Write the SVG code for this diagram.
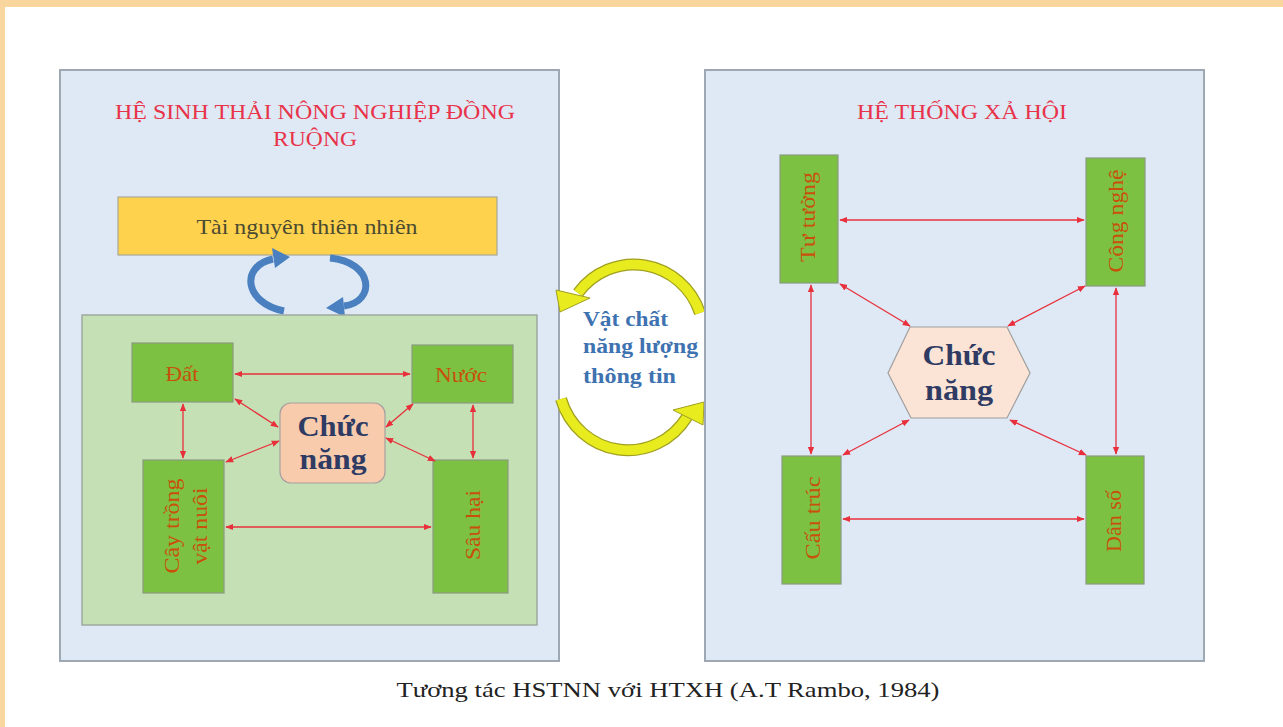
<svg xmlns="http://www.w3.org/2000/svg" width="1283" height="727" viewBox="0 0 1283 727">
<style>
.panel{fill:#DEE9F5;stroke:#9EA8B3;stroke-width:2}
.gbox{fill:#7DC142;stroke:#8A9A80;stroke-width:1.2}
.title{font-family:"Liberation Serif",serif;font-size:21px;fill:#E8334A}
.lbl{font-family:"Liberation Serif",serif;font-size:22px;fill:#C8500A}
.cn{font-family:"Liberation Serif",serif;font-size:30px;font-weight:bold;fill:#2F3B63}
.con{stroke:#E8303C;stroke-width:1.3;fill:none;marker-start:url(#a);marker-end:url(#a)}
.vc{font-family:"Liberation Serif",serif;font-size:20px;font-weight:bold;fill:#3E72B0}
</style>
<defs>
<marker id="a" viewBox="0 0 10 10" refX="9" refY="5" markerWidth="8" markerHeight="8" orient="auto-start-reverse" markerUnits="userSpaceOnUse"><path d="M0,1 L10,5 L0,9 z" fill="#E8303C"/></marker>
</defs>
<rect x="0" y="0" width="1283" height="727" fill="#FFFFFF"/>
<rect x="0" y="0" width="1283" height="7" fill="#F8D69E"/>
<rect x="0" y="0" width="5" height="727" fill="#F8D69E"/>

<g id="panel-left">
<rect class="panel" x="60" y="70" width="499" height="591"/>
<text class="title" x="315" y="119" text-anchor="middle" textLength="400" lengthAdjust="spacingAndGlyphs">HỆ SINH THẢI NÔNG NGHIỆP ĐỒNG</text>
<text class="title" x="315" y="146" text-anchor="middle" textLength="84" lengthAdjust="spacingAndGlyphs">RUỘNG</text>
</g>
<g id="tai-nguyen">
<rect x="118" y="197" width="379" height="58" fill="#FFD24E" stroke="#A8A898" stroke-width="1.2"/>
<text x="307" y="234" text-anchor="middle" font-family="Liberation Serif, serif" font-size="22" fill="#4A4A30" textLength="221" lengthAdjust="spacingAndGlyphs">Tài nguyên thiên nhiên</text>
</g>
<g id="cycle-arrows" fill="#4A80C0">
<path d="M284 311 C244 303, 240 266, 273 259" fill="none" stroke="#4A80C0" stroke-width="7"/>
<polygon points="290,257 272,248 275,268"/>
<path d="M330 258 C374 262, 376 302, 344 306" fill="none" stroke="#4A80C0" stroke-width="7"/>
<polygon points="326,308 343,297 345,317"/>
</g>
<g id="panel-inner">
<rect x="82" y="315" width="455" height="310" fill="#C5E0B4" stroke="#9EA8A0" stroke-width="1.5"/>
</g>
<g id="dat">
<rect class="gbox" x="132" y="343" width="101" height="59"/>
<text class="lbl" x="182" y="381" text-anchor="middle" textLength="33" lengthAdjust="spacingAndGlyphs">Đất</text>
</g>
<g id="nuoc">
<rect class="gbox" x="412" y="345" width="101" height="58"/>
<text class="lbl" x="461" y="382" text-anchor="middle" textLength="52" lengthAdjust="spacingAndGlyphs">Nước</text>
</g>
<g id="chuc-nang-left">
<rect x="280" y="403" width="105" height="80" rx="11" fill="#F8CBAD" stroke="#A8A0A0" stroke-width="1.2"/>
<text class="cn" x="333" y="436" text-anchor="middle" textLength="71" lengthAdjust="spacingAndGlyphs">Chức</text>
<text class="cn" x="333" y="469" text-anchor="middle" textLength="67" lengthAdjust="spacingAndGlyphs">năng</text>
</g>
<g id="cay-trong">
<rect class="gbox" x="143" y="460" width="81" height="133"/>
<text class="lbl" transform="translate(179,526) rotate(-90)" text-anchor="middle" textLength="95" lengthAdjust="spacingAndGlyphs">Cây trồng</text>
<text class="lbl" transform="translate(207,526) rotate(-90)" text-anchor="middle" textLength="77" lengthAdjust="spacingAndGlyphs">vật nuôi</text>
</g>
<g id="sau-hai">
<rect class="gbox" x="433" y="460" width="75" height="133"/>
<text class="lbl" transform="translate(480,525) rotate(-90)" text-anchor="middle" textLength="70" lengthAdjust="spacingAndGlyphs">Sâu hại</text>
</g>

<g id="middle">
<path d="M700 313 A70 72 0 0 0 578 293" fill="none" stroke="#A0A020" stroke-width="12"/>
<path d="M700 313 A70 72 0 0 0 578 293" fill="none" stroke="#E8EC1E" stroke-width="9.5"/>
<polygon points="560,312 556,290 590,298" fill="#E8EC1E" stroke="#A0A020" stroke-width="1"/>
<path d="M561 399 A70 72 0 0 0 687 417" fill="none" stroke="#A0A020" stroke-width="12"/>
<path d="M561 399 A70 72 0 0 0 687 417" fill="none" stroke="#E8EC1E" stroke-width="9.5"/>
<polygon points="704,402 673,410 703,425" fill="#E8EC1E" stroke="#A0A020" stroke-width="1"/>
<text class="vc" x="583" y="326" textLength="85" lengthAdjust="spacingAndGlyphs">Vật chất</text>
<text class="vc" x="583" y="353" textLength="115" lengthAdjust="spacingAndGlyphs">năng lượng</text>
<text class="vc" x="583" y="383" textLength="93" lengthAdjust="spacingAndGlyphs">thông tin</text>
</g>

<g id="panel-right">
<rect class="panel" x="705" y="70" width="499" height="591"/>
<text class="title" x="962" y="119" text-anchor="middle" textLength="210" lengthAdjust="spacingAndGlyphs">HỆ THỐNG XẢ HỘI</text>
</g>
<g id="tu-tuong">
<rect class="gbox" x="780" y="155" width="58" height="128"/>
<text class="lbl" transform="translate(815,217) rotate(-90)" text-anchor="middle" textLength="90" lengthAdjust="spacingAndGlyphs">Tư tưởng</text>
</g>
<g id="cong-nghe">
<rect class="gbox" x="1086" y="158" width="59" height="128"/>
<text class="lbl" transform="translate(1123,221) rotate(-90)" text-anchor="middle" textLength="103" lengthAdjust="spacingAndGlyphs">Công nghệ</text>
</g>
<g id="cau-truc">
<rect class="gbox" x="782" y="456" width="59" height="128"/>
<text class="lbl" transform="translate(820,518) rotate(-90)" text-anchor="middle" textLength="83" lengthAdjust="spacingAndGlyphs">Cấu trúc</text>
</g>
<g id="dan-so">
<rect class="gbox" x="1086" y="456" width="58" height="128"/>
<text class="lbl" transform="translate(1121,521) rotate(-90)" text-anchor="middle" textLength="62" lengthAdjust="spacingAndGlyphs">Dân số</text>
</g>
<g id="chuc-nang-right">
<polygon points="910,327 1007,327 1030,373 1007,418 911,418 888,373" fill="#FBE4D5" stroke="#9E9E9E" stroke-width="1.2"/>
<text class="cn" x="959" y="365" text-anchor="middle" textLength="73" lengthAdjust="spacingAndGlyphs">Chức</text>
<text class="cn" x="959" y="400" text-anchor="middle" textLength="68" lengthAdjust="spacingAndGlyphs">năng</text>
</g>

<g id="connectors">
<line class="con" x1="235" y1="374" x2="410" y2="374"/>
<line class="con" x1="183" y1="404" x2="183" y2="458"/>
<line class="con" x1="473" y1="405" x2="473" y2="458"/>
<line class="con" x1="226" y1="527" x2="431" y2="527"/>
<line class="con" x1="235" y1="399" x2="278" y2="427"/>
<line class="con" x1="413" y1="404" x2="386" y2="427"/>
<line class="con" x1="279" y1="441" x2="226" y2="462"/>
<line class="con" x1="386" y1="438" x2="435" y2="461"/>
<line class="con" x1="840" y1="220" x2="1084" y2="220"/>
<line class="con" x1="811" y1="285" x2="811" y2="454"/>
<line class="con" x1="1116" y1="288" x2="1116" y2="454"/>
<line class="con" x1="843" y1="519" x2="1084" y2="519"/>
<line class="con" x1="840" y1="284" x2="910" y2="326"/>
<line class="con" x1="1085" y1="286" x2="1008" y2="326"/>
<line class="con" x1="909" y1="420" x2="843" y2="455"/>
<line class="con" x1="1010" y1="420" x2="1086" y2="455"/>
</g>

<text x="668" y="697" text-anchor="middle" font-family="Liberation Serif, serif" font-size="21" fill="#222222" textLength="543" lengthAdjust="spacingAndGlyphs">Tương tác HSTNN với HTXH (A.T Rambo, 1984)</text>
</svg>
